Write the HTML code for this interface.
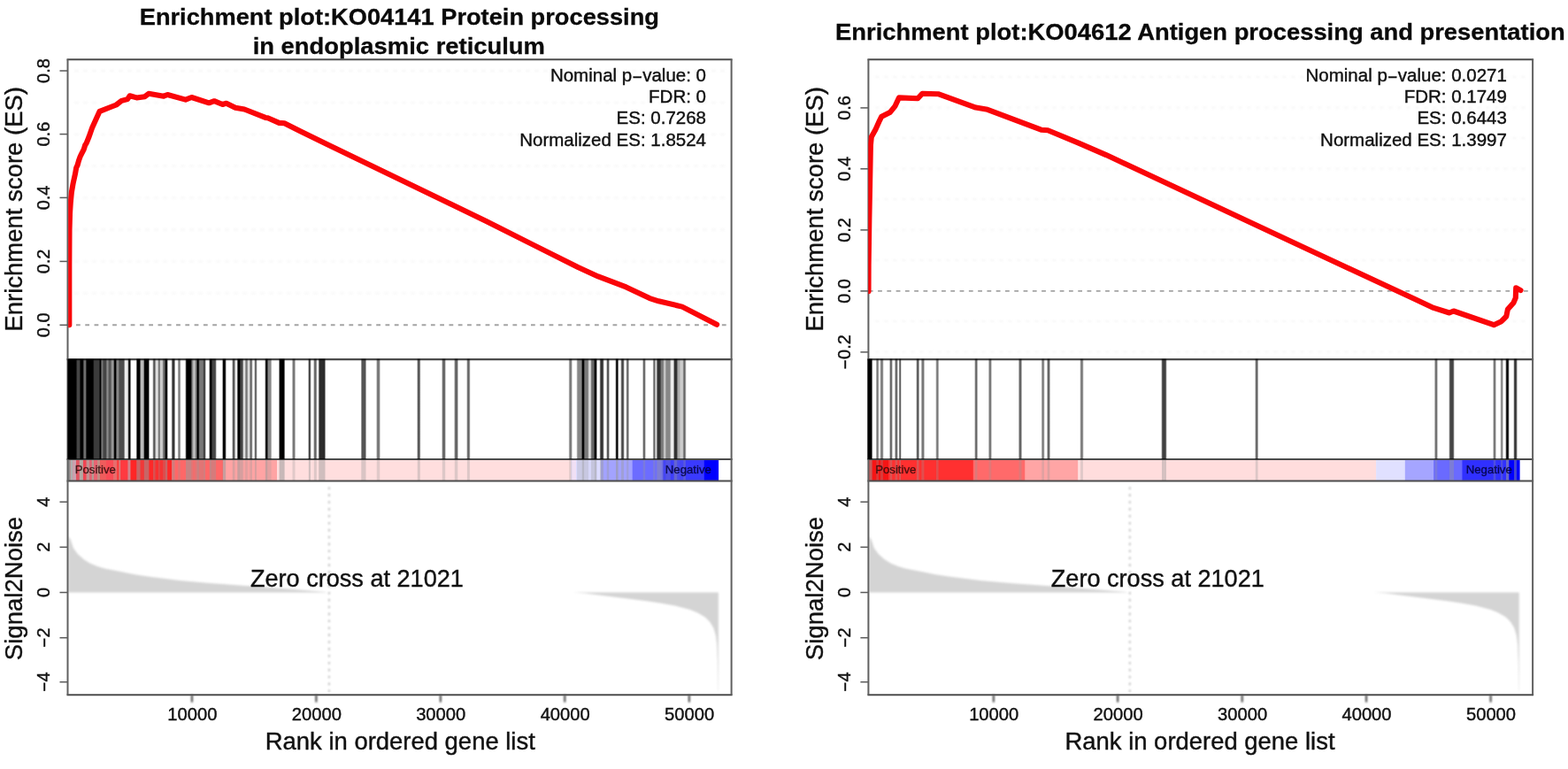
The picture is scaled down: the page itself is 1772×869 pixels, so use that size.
<!DOCTYPE html>
<html lang="en">
<head>
<meta charset="utf-8">
<title>GSEA enrichment plots</title>
<style>
html,body{margin:0;padding:0;background:#fff;}
body{width:1772px;height:869px;overflow:hidden;}
svg{display:block;}
svg text{font-family:"Liberation Sans", sans-serif;}
svg .t{fill:#111;stroke:#111;stroke-width:0.4px;}
svg .h{fill:#0a0a0a;stroke:#0a0a0a;stroke-width:0.3px;font-weight:700;}
svg .cp{font-size:13.2px;fill:#300a0a;stroke:#300a0a;stroke-width:0.5px;fill-opacity:.85;stroke-opacity:.55;}
svg .cn{font-size:13.2px;fill:#000038;stroke:#000038;stroke-width:0.5px;fill-opacity:.85;stroke-opacity:.55;}
</style>
</head>
<body>
<svg width="1772" height="869" viewBox="0 0 1772 869">
<defs><clipPath id="cp1"><rect x="77.2" y="67.3" width="750.1" height="338.8"/></clipPath>
<linearGradient id="bc1" gradientUnits="userSpaceOnUse" x1="75.4" y1="0" x2="775.8" y2="0"><stop offset="0.0000" stop-color="#000" stop-opacity="0.00"/><stop offset="0.0026" stop-color="#000" stop-opacity="1.00"/><stop offset="0.0148" stop-color="#000" stop-opacity="1.00"/><stop offset="0.0171" stop-color="#000" stop-opacity="0.73"/><stop offset="0.0203" stop-color="#000" stop-opacity="0.73"/><stop offset="0.0226" stop-color="#000" stop-opacity="1.00"/><stop offset="0.0258" stop-color="#000" stop-opacity="1.00"/><stop offset="0.0281" stop-color="#000" stop-opacity="0.57"/><stop offset="0.0301" stop-color="#000" stop-opacity="0.57"/><stop offset="0.0324" stop-color="#000" stop-opacity="1.00"/><stop offset="0.0423" stop-color="#000" stop-opacity="1.00"/><stop offset="0.0445" stop-color="#000" stop-opacity="0.77"/><stop offset="0.0520" stop-color="#000" stop-opacity="0.77"/><stop offset="0.0541" stop-color="#000" stop-opacity="1.00"/><stop offset="0.0545" stop-color="#000" stop-opacity="1.00"/><stop offset="0.0567" stop-color="#000" stop-opacity="0.53"/><stop offset="0.0574" stop-color="#000" stop-opacity="0.53"/><stop offset="0.0597" stop-color="#000" stop-opacity="0.73"/><stop offset="0.0630" stop-color="#000" stop-opacity="0.73"/><stop offset="0.0652" stop-color="#000" stop-opacity="0.45"/><stop offset="0.0662" stop-color="#000" stop-opacity="0.45"/><stop offset="0.0685" stop-color="#000" stop-opacity="0.66"/><stop offset="0.0708" stop-color="#000" stop-opacity="0.66"/><stop offset="0.0731" stop-color="#000" stop-opacity="0.40"/><stop offset="0.0751" stop-color="#000" stop-opacity="0.40"/><stop offset="0.0774" stop-color="#000" stop-opacity="1.00"/><stop offset="0.0787" stop-color="#000" stop-opacity="1.00"/><stop offset="0.0810" stop-color="#000" stop-opacity="0.47"/><stop offset="0.0830" stop-color="#000" stop-opacity="0.47"/><stop offset="0.0852" stop-color="#000" stop-opacity="0.70"/><stop offset="0.0921" stop-color="#000" stop-opacity="0.70"/><stop offset="0.0944" stop-color="#000" stop-opacity="0.07"/><stop offset="0.0982" stop-color="#000" stop-opacity="0.07"/><stop offset="0.1005" stop-color="#000" stop-opacity="1.00"/><stop offset="0.1018" stop-color="#000" stop-opacity="1.00"/><stop offset="0.1041" stop-color="#000" stop-opacity="0.00"/><stop offset="0.1115" stop-color="#000" stop-opacity="0.00"/><stop offset="0.1138" stop-color="#000" stop-opacity="1.00"/><stop offset="0.1176" stop-color="#000" stop-opacity="1.00"/><stop offset="0.1199" stop-color="#000" stop-opacity="0.27"/><stop offset="0.1236" stop-color="#000" stop-opacity="0.27"/><stop offset="0.1259" stop-color="#000" stop-opacity="1.00"/><stop offset="0.1316" stop-color="#000" stop-opacity="1.00"/><stop offset="0.1339" stop-color="#000" stop-opacity="0.00"/><stop offset="0.1382" stop-color="#000" stop-opacity="0.00"/><stop offset="0.1405" stop-color="#000" stop-opacity="0.67"/><stop offset="0.1419" stop-color="#000" stop-opacity="0.67"/><stop offset="0.1442" stop-color="#000" stop-opacity="0.13"/><stop offset="0.1468" stop-color="#000" stop-opacity="0.13"/><stop offset="0.1489" stop-color="#000" stop-opacity="0.60"/><stop offset="0.1493" stop-color="#000" stop-opacity="0.60"/><stop offset="0.1515" stop-color="#000" stop-opacity="0.20"/><stop offset="0.1541" stop-color="#000" stop-opacity="0.20"/><stop offset="0.1563" stop-color="#000" stop-opacity="0.60"/><stop offset="0.1578" stop-color="#000" stop-opacity="0.60"/><stop offset="0.1601" stop-color="#000" stop-opacity="1.00"/><stop offset="0.1613" stop-color="#000" stop-opacity="1.00"/><stop offset="0.1636" stop-color="#000" stop-opacity="0.00"/><stop offset="0.1685" stop-color="#000" stop-opacity="0.00"/><stop offset="0.1708" stop-color="#000" stop-opacity="0.80"/><stop offset="0.1732" stop-color="#000" stop-opacity="0.80"/><stop offset="0.1755" stop-color="#000" stop-opacity="0.00"/><stop offset="0.1785" stop-color="#000" stop-opacity="0.00"/><stop offset="0.1808" stop-color="#000" stop-opacity="0.53"/><stop offset="0.1822" stop-color="#000" stop-opacity="0.53"/><stop offset="0.1845" stop-color="#000" stop-opacity="0.00"/><stop offset="0.1910" stop-color="#000" stop-opacity="0.00"/><stop offset="0.1933" stop-color="#000" stop-opacity="1.00"/><stop offset="0.2002" stop-color="#000" stop-opacity="1.00"/><stop offset="0.2025" stop-color="#000" stop-opacity="0.47"/><stop offset="0.2032" stop-color="#000" stop-opacity="0.47"/><stop offset="0.2053" stop-color="#000" stop-opacity="0.20"/><stop offset="0.2057" stop-color="#000" stop-opacity="0.20"/><stop offset="0.2079" stop-color="#000" stop-opacity="0.47"/><stop offset="0.2087" stop-color="#000" stop-opacity="0.47"/><stop offset="0.2110" stop-color="#000" stop-opacity="1.00"/><stop offset="0.2123" stop-color="#000" stop-opacity="1.00"/><stop offset="0.2146" stop-color="#000" stop-opacity="0.53"/><stop offset="0.2196" stop-color="#000" stop-opacity="0.53"/><stop offset="0.2219" stop-color="#000" stop-opacity="0.80"/><stop offset="0.2226" stop-color="#000" stop-opacity="0.80"/><stop offset="0.2249" stop-color="#000" stop-opacity="0.00"/><stop offset="0.2293" stop-color="#000" stop-opacity="0.00"/><stop offset="0.2316" stop-color="#000" stop-opacity="1.00"/><stop offset="0.2330" stop-color="#000" stop-opacity="1.00"/><stop offset="0.2353" stop-color="#000" stop-opacity="0.73"/><stop offset="0.2397" stop-color="#000" stop-opacity="0.73"/><stop offset="0.2420" stop-color="#000" stop-opacity="0.00"/><stop offset="0.2506" stop-color="#000" stop-opacity="0.00"/><stop offset="0.2529" stop-color="#000" stop-opacity="1.00"/><stop offset="0.2554" stop-color="#000" stop-opacity="1.00"/><stop offset="0.2577" stop-color="#000" stop-opacity="0.00"/><stop offset="0.2664" stop-color="#000" stop-opacity="0.00"/><stop offset="0.2687" stop-color="#000" stop-opacity="0.67"/><stop offset="0.2701" stop-color="#000" stop-opacity="0.67"/><stop offset="0.2724" stop-color="#000" stop-opacity="0.07"/><stop offset="0.2743" stop-color="#000" stop-opacity="0.07"/><stop offset="0.2766" stop-color="#000" stop-opacity="1.00"/><stop offset="0.2786" stop-color="#000" stop-opacity="1.00"/><stop offset="0.2808" stop-color="#000" stop-opacity="0.73"/><stop offset="0.2834" stop-color="#000" stop-opacity="0.73"/><stop offset="0.2857" stop-color="#000" stop-opacity="0.13"/><stop offset="0.2871" stop-color="#000" stop-opacity="0.13"/><stop offset="0.2894" stop-color="#000" stop-opacity="0.53"/><stop offset="0.2907" stop-color="#000" stop-opacity="0.53"/><stop offset="0.2930" stop-color="#000" stop-opacity="0.13"/><stop offset="0.2944" stop-color="#000" stop-opacity="0.13"/><stop offset="0.2967" stop-color="#000" stop-opacity="0.60"/><stop offset="0.2981" stop-color="#000" stop-opacity="0.60"/><stop offset="0.3004" stop-color="#000" stop-opacity="0.00"/><stop offset="0.3023" stop-color="#000" stop-opacity="0.00"/><stop offset="0.3045" stop-color="#000" stop-opacity="0.67"/><stop offset="0.3053" stop-color="#000" stop-opacity="0.67"/><stop offset="0.3075" stop-color="#000" stop-opacity="0.00"/><stop offset="0.3194" stop-color="#000" stop-opacity="0.00"/><stop offset="0.3217" stop-color="#000" stop-opacity="1.00"/><stop offset="0.3230" stop-color="#000" stop-opacity="1.00"/><stop offset="0.3252" stop-color="#000" stop-opacity="0.47"/><stop offset="0.3291" stop-color="#000" stop-opacity="0.47"/><stop offset="0.3314" stop-color="#000" stop-opacity="0.00"/><stop offset="0.3418" stop-color="#000" stop-opacity="0.00"/><stop offset="0.3441" stop-color="#000" stop-opacity="1.00"/><stop offset="0.3504" stop-color="#000" stop-opacity="1.00"/><stop offset="0.3527" stop-color="#000" stop-opacity="0.00"/><stop offset="0.3631" stop-color="#000" stop-opacity="0.00"/><stop offset="0.3654" stop-color="#000" stop-opacity="0.53"/><stop offset="0.3674" stop-color="#000" stop-opacity="0.53"/><stop offset="0.3696" stop-color="#000" stop-opacity="0.00"/><stop offset="0.3892" stop-color="#000" stop-opacity="0.00"/><stop offset="0.3915" stop-color="#000" stop-opacity="0.80"/><stop offset="0.3923" stop-color="#000" stop-opacity="0.80"/><stop offset="0.3946" stop-color="#000" stop-opacity="0.00"/><stop offset="0.3978" stop-color="#000" stop-opacity="0.00"/><stop offset="0.4001" stop-color="#000" stop-opacity="0.60"/><stop offset="0.4021" stop-color="#000" stop-opacity="0.60"/><stop offset="0.4043" stop-color="#000" stop-opacity="0.00"/><stop offset="0.4055" stop-color="#000" stop-opacity="0.00"/><stop offset="0.4078" stop-color="#000" stop-opacity="0.83"/><stop offset="0.4159" stop-color="#000" stop-opacity="0.83"/><stop offset="0.4182" stop-color="#000" stop-opacity="0.00"/><stop offset="0.4742" stop-color="#000" stop-opacity="0.00"/><stop offset="0.4764" stop-color="#000" stop-opacity="0.67"/><stop offset="0.4816" stop-color="#000" stop-opacity="0.67"/><stop offset="0.4839" stop-color="#000" stop-opacity="0.00"/><stop offset="0.4991" stop-color="#000" stop-opacity="0.00"/><stop offset="0.5014" stop-color="#000" stop-opacity="0.53"/><stop offset="0.5040" stop-color="#000" stop-opacity="0.53"/><stop offset="0.5063" stop-color="#000" stop-opacity="0.00"/><stop offset="0.5648" stop-color="#000" stop-opacity="0.00"/><stop offset="0.5671" stop-color="#000" stop-opacity="0.67"/><stop offset="0.5691" stop-color="#000" stop-opacity="0.67"/><stop offset="0.5714" stop-color="#000" stop-opacity="0.00"/><stop offset="0.6048" stop-color="#000" stop-opacity="0.00"/><stop offset="0.6071" stop-color="#000" stop-opacity="0.60"/><stop offset="0.6097" stop-color="#000" stop-opacity="0.60"/><stop offset="0.6119" stop-color="#000" stop-opacity="0.00"/><stop offset="0.6248" stop-color="#000" stop-opacity="0.00"/><stop offset="0.6271" stop-color="#000" stop-opacity="0.60"/><stop offset="0.6298" stop-color="#000" stop-opacity="0.60"/><stop offset="0.6321" stop-color="#000" stop-opacity="0.00"/><stop offset="0.6449" stop-color="#000" stop-opacity="0.00"/><stop offset="0.6472" stop-color="#000" stop-opacity="0.60"/><stop offset="0.6492" stop-color="#000" stop-opacity="0.60"/><stop offset="0.6515" stop-color="#000" stop-opacity="0.00"/><stop offset="0.8095" stop-color="#000" stop-opacity="0.00"/><stop offset="0.8118" stop-color="#000" stop-opacity="0.53"/><stop offset="0.8138" stop-color="#000" stop-opacity="0.53"/><stop offset="0.8161" stop-color="#000" stop-opacity="0.00"/><stop offset="0.8222" stop-color="#000" stop-opacity="0.00"/><stop offset="0.8245" stop-color="#000" stop-opacity="0.47"/><stop offset="0.8302" stop-color="#000" stop-opacity="0.47"/><stop offset="0.8325" stop-color="#000" stop-opacity="1.00"/><stop offset="0.8338" stop-color="#000" stop-opacity="1.00"/><stop offset="0.8361" stop-color="#000" stop-opacity="0.53"/><stop offset="0.8407" stop-color="#000" stop-opacity="0.53"/><stop offset="0.8429" stop-color="#000" stop-opacity="0.13"/><stop offset="0.8449" stop-color="#000" stop-opacity="0.13"/><stop offset="0.8472" stop-color="#000" stop-opacity="0.60"/><stop offset="0.8502" stop-color="#000" stop-opacity="0.60"/><stop offset="0.8525" stop-color="#000" stop-opacity="1.00"/><stop offset="0.8539" stop-color="#000" stop-opacity="1.00"/><stop offset="0.8562" stop-color="#000" stop-opacity="0.00"/><stop offset="0.8594" stop-color="#000" stop-opacity="0.00"/><stop offset="0.8617" stop-color="#000" stop-opacity="0.80"/><stop offset="0.8649" stop-color="#000" stop-opacity="0.80"/><stop offset="0.8672" stop-color="#000" stop-opacity="0.00"/><stop offset="0.8704" stop-color="#000" stop-opacity="0.00"/><stop offset="0.8726" stop-color="#000" stop-opacity="0.67"/><stop offset="0.8739" stop-color="#000" stop-opacity="0.67"/><stop offset="0.8762" stop-color="#000" stop-opacity="0.00"/><stop offset="0.8849" stop-color="#000" stop-opacity="0.00"/><stop offset="0.8872" stop-color="#000" stop-opacity="1.00"/><stop offset="0.8886" stop-color="#000" stop-opacity="1.00"/><stop offset="0.8909" stop-color="#000" stop-opacity="0.00"/><stop offset="0.8935" stop-color="#000" stop-opacity="0.00"/><stop offset="0.8958" stop-color="#000" stop-opacity="0.73"/><stop offset="0.8978" stop-color="#000" stop-opacity="0.73"/><stop offset="0.9001" stop-color="#000" stop-opacity="0.00"/><stop offset="0.9021" stop-color="#000" stop-opacity="0.00"/><stop offset="0.9043" stop-color="#000" stop-opacity="0.60"/><stop offset="0.9056" stop-color="#000" stop-opacity="0.60"/><stop offset="0.9079" stop-color="#000" stop-opacity="0.00"/><stop offset="0.9288" stop-color="#000" stop-opacity="0.00"/><stop offset="0.9310" stop-color="#000" stop-opacity="0.60"/><stop offset="0.9323" stop-color="#000" stop-opacity="0.60"/><stop offset="0.9346" stop-color="#000" stop-opacity="0.00"/><stop offset="0.9452" stop-color="#000" stop-opacity="0.00"/><stop offset="0.9475" stop-color="#000" stop-opacity="0.60"/><stop offset="0.9482" stop-color="#000" stop-opacity="0.60"/><stop offset="0.9505" stop-color="#000" stop-opacity="0.13"/><stop offset="0.9512" stop-color="#000" stop-opacity="0.13"/><stop offset="0.9535" stop-color="#000" stop-opacity="0.80"/><stop offset="0.9573" stop-color="#000" stop-opacity="0.80"/><stop offset="0.9596" stop-color="#000" stop-opacity="0.53"/><stop offset="0.9620" stop-color="#000" stop-opacity="0.53"/><stop offset="0.9643" stop-color="#000" stop-opacity="0.20"/><stop offset="0.9652" stop-color="#000" stop-opacity="0.20"/><stop offset="0.9674" stop-color="#000" stop-opacity="0.47"/><stop offset="0.9732" stop-color="#000" stop-opacity="0.47"/><stop offset="0.9754" stop-color="#000" stop-opacity="0.07"/><stop offset="0.9786" stop-color="#000" stop-opacity="0.07"/><stop offset="0.9809" stop-color="#000" stop-opacity="0.80"/><stop offset="0.9840" stop-color="#000" stop-opacity="0.80"/><stop offset="0.9863" stop-color="#000" stop-opacity="0.33"/><stop offset="0.9883" stop-color="#000" stop-opacity="0.33"/><stop offset="0.9906" stop-color="#000" stop-opacity="0.20"/><stop offset="0.9937" stop-color="#000" stop-opacity="0.20"/><stop offset="0.9960" stop-color="#000" stop-opacity="0.60"/><stop offset="0.9974" stop-color="#000" stop-opacity="0.60"/><stop offset="1.0000" stop-color="#000" stop-opacity="0.00"/></linearGradient>
<clipPath id="cp2"><rect x="981.3" y="67.3" width="750.7" height="338.8"/></clipPath>
<linearGradient id="bc2" gradientUnits="userSpaceOnUse" x1="979.5" y1="0" x2="1715" y2="0"><stop offset="0.0000" stop-color="#000" stop-opacity="0.00"/><stop offset="0.0024" stop-color="#000" stop-opacity="1.00"/><stop offset="0.0072" stop-color="#000" stop-opacity="1.00"/><stop offset="0.0094" stop-color="#000" stop-opacity="0.00"/><stop offset="0.0136" stop-color="#000" stop-opacity="0.00"/><stop offset="0.0158" stop-color="#000" stop-opacity="0.53"/><stop offset="0.0171" stop-color="#000" stop-opacity="0.53"/><stop offset="0.0193" stop-color="#000" stop-opacity="0.00"/><stop offset="0.0200" stop-color="#000" stop-opacity="0.00"/><stop offset="0.0222" stop-color="#000" stop-opacity="0.53"/><stop offset="0.0241" stop-color="#000" stop-opacity="0.53"/><stop offset="0.0262" stop-color="#000" stop-opacity="0.00"/><stop offset="0.0345" stop-color="#000" stop-opacity="0.00"/><stop offset="0.0367" stop-color="#000" stop-opacity="0.60"/><stop offset="0.0379" stop-color="#000" stop-opacity="0.60"/><stop offset="0.0401" stop-color="#000" stop-opacity="0.00"/><stop offset="0.0426" stop-color="#000" stop-opacity="0.00"/><stop offset="0.0447" stop-color="#000" stop-opacity="0.60"/><stop offset="0.0461" stop-color="#000" stop-opacity="0.60"/><stop offset="0.0483" stop-color="#000" stop-opacity="0.00"/><stop offset="0.0489" stop-color="#000" stop-opacity="0.00"/><stop offset="0.0510" stop-color="#000" stop-opacity="0.73"/><stop offset="0.0514" stop-color="#000" stop-opacity="0.73"/><stop offset="0.0534" stop-color="#000" stop-opacity="0.00"/><stop offset="0.0756" stop-color="#000" stop-opacity="0.00"/><stop offset="0.0778" stop-color="#000" stop-opacity="0.67"/><stop offset="0.0791" stop-color="#000" stop-opacity="0.67"/><stop offset="0.0813" stop-color="#000" stop-opacity="0.00"/><stop offset="0.0831" stop-color="#000" stop-opacity="0.00"/><stop offset="0.0852" stop-color="#000" stop-opacity="0.53"/><stop offset="0.0872" stop-color="#000" stop-opacity="0.53"/><stop offset="0.0893" stop-color="#000" stop-opacity="0.00"/><stop offset="0.1056" stop-color="#000" stop-opacity="0.00"/><stop offset="0.1078" stop-color="#000" stop-opacity="0.53"/><stop offset="0.1092" stop-color="#000" stop-opacity="0.53"/><stop offset="0.1114" stop-color="#000" stop-opacity="0.00"/><stop offset="0.1653" stop-color="#000" stop-opacity="0.00"/><stop offset="0.1675" stop-color="#000" stop-opacity="0.60"/><stop offset="0.1689" stop-color="#000" stop-opacity="0.60"/><stop offset="0.1710" stop-color="#000" stop-opacity="0.00"/><stop offset="0.1865" stop-color="#000" stop-opacity="0.00"/><stop offset="0.1887" stop-color="#000" stop-opacity="0.53"/><stop offset="0.1903" stop-color="#000" stop-opacity="0.53"/><stop offset="0.1925" stop-color="#000" stop-opacity="0.00"/><stop offset="0.2328" stop-color="#000" stop-opacity="0.00"/><stop offset="0.2349" stop-color="#000" stop-opacity="0.60"/><stop offset="0.2368" stop-color="#000" stop-opacity="0.60"/><stop offset="0.2390" stop-color="#000" stop-opacity="0.00"/><stop offset="0.2678" stop-color="#000" stop-opacity="0.00"/><stop offset="0.2700" stop-color="#000" stop-opacity="0.53"/><stop offset="0.2715" stop-color="#000" stop-opacity="0.53"/><stop offset="0.2737" stop-color="#000" stop-opacity="0.00"/><stop offset="0.2764" stop-color="#000" stop-opacity="0.00"/><stop offset="0.2786" stop-color="#000" stop-opacity="0.60"/><stop offset="0.2802" stop-color="#000" stop-opacity="0.60"/><stop offset="0.2824" stop-color="#000" stop-opacity="0.00"/><stop offset="0.3273" stop-color="#000" stop-opacity="0.00"/><stop offset="0.3294" stop-color="#000" stop-opacity="0.53"/><stop offset="0.3313" stop-color="#000" stop-opacity="0.53"/><stop offset="0.3335" stop-color="#000" stop-opacity="0.00"/><stop offset="0.4523" stop-color="#000" stop-opacity="0.00"/><stop offset="0.4545" stop-color="#000" stop-opacity="0.75"/><stop offset="0.4591" stop-color="#000" stop-opacity="0.75"/><stop offset="0.4613" stop-color="#000" stop-opacity="0.00"/><stop offset="0.5962" stop-color="#000" stop-opacity="0.00"/><stop offset="0.5984" stop-color="#000" stop-opacity="0.60"/><stop offset="0.6000" stop-color="#000" stop-opacity="0.60"/><stop offset="0.6022" stop-color="#000" stop-opacity="0.00"/><stop offset="0.8718" stop-color="#000" stop-opacity="0.00"/><stop offset="0.8740" stop-color="#000" stop-opacity="0.55"/><stop offset="0.8756" stop-color="#000" stop-opacity="0.55"/><stop offset="0.8778" stop-color="#000" stop-opacity="0.00"/><stop offset="0.8942" stop-color="#000" stop-opacity="0.00"/><stop offset="0.8964" stop-color="#000" stop-opacity="0.73"/><stop offset="0.9010" stop-color="#000" stop-opacity="0.73"/><stop offset="0.9032" stop-color="#000" stop-opacity="0.00"/><stop offset="0.9618" stop-color="#000" stop-opacity="0.00"/><stop offset="0.9640" stop-color="#000" stop-opacity="0.53"/><stop offset="0.9653" stop-color="#000" stop-opacity="0.53"/><stop offset="0.9675" stop-color="#000" stop-opacity="0.00"/><stop offset="0.9731" stop-color="#000" stop-opacity="0.00"/><stop offset="0.9753" stop-color="#000" stop-opacity="0.50"/><stop offset="0.9762" stop-color="#000" stop-opacity="0.50"/><stop offset="0.9784" stop-color="#000" stop-opacity="0.00"/><stop offset="0.9812" stop-color="#000" stop-opacity="0.00"/><stop offset="0.9834" stop-color="#000" stop-opacity="1.00"/><stop offset="0.9853" stop-color="#000" stop-opacity="1.00"/><stop offset="0.9875" stop-color="#000" stop-opacity="0.00"/><stop offset="0.9935" stop-color="#000" stop-opacity="0.00"/><stop offset="0.9956" stop-color="#000" stop-opacity="0.80"/><stop offset="0.9976" stop-color="#000" stop-opacity="0.80"/><stop offset="1.0000" stop-color="#000" stop-opacity="0.00"/></linearGradient><filter id="soft" x="0" y="0" width="1772" height="869" filterUnits="userSpaceOnUse" color-interpolation-filters="sRGB"><feGaussianBlur stdDeviation="0.9"/></filter></defs>
<rect x="0" y="0" width="1772" height="869" fill="#fff"/>
<g>
<line x1="75.7" y1="367.3" x2="822.1" y2="367.3" stroke="#a4a4a4" stroke-width="1.9" stroke-dasharray="4.8 5.48"/>
<line x1="981.8" y1="328.9" x2="1727.6" y2="328.9" stroke="#a4a4a4" stroke-width="1.9" stroke-dasharray="4.8 5.48"/>
</g>
<g filter="url(#soft)">
<!-- left panel: KO04141 -->
<line x1="84.5" y1="80" x2="821.6" y2="80" stroke="#f4f4f4" stroke-width="1.8" stroke-dasharray="4 6"/>
<line x1="84.5" y1="115.9" x2="821.6" y2="115.9" stroke="#f4f4f4" stroke-width="1.8" stroke-dasharray="4 6"/>
<line x1="84.5" y1="151.8" x2="821.6" y2="151.8" stroke="#f4f4f4" stroke-width="1.8" stroke-dasharray="4 6"/>
<line x1="84.5" y1="187.7" x2="821.6" y2="187.7" stroke="#f4f4f4" stroke-width="1.8" stroke-dasharray="4 6"/>
<line x1="84.5" y1="223.6" x2="821.6" y2="223.6" stroke="#f4f4f4" stroke-width="1.8" stroke-dasharray="4 6"/>
<line x1="84.5" y1="259.5" x2="821.6" y2="259.5" stroke="#f4f4f4" stroke-width="1.8" stroke-dasharray="4 6"/>
<line x1="84.5" y1="295.4" x2="821.6" y2="295.4" stroke="#f4f4f4" stroke-width="1.8" stroke-dasharray="4 6"/>
<line x1="84.5" y1="331.3" x2="821.6" y2="331.3" stroke="#f4f4f4" stroke-width="1.8" stroke-dasharray="4 6"/>
<polygon points="77.3,669.5 77.3,606 79.6,609.4 83,619.6 88,626.3 94.8,632.3 101.6,636.5 110,639.9 118.5,642.4 135.4,645.8 152.4,649.2 169.3,651.7 203.2,656 237,659 270.9,661.5 300,663.6 335,666.2 368.5,669 368.5,669.5" fill="#d4d4d4"/>
<polygon points="648,669.6 661.6,670.5 695.4,674.7 729.3,678.9 746.2,681.5 763,684.4 780,689.1 788.5,692.5 797,697.6 802,702.6 806.3,709.4 808.9,717.9 810.2,728 811,748.3 811.6,780.5 811.9,780.5 811.9,669.5" fill="#d4d4d4"/>
<line x1="371.9" y1="550.4" x2="371.9" y2="782" stroke="#b8b8b8" stroke-width="1.8" stroke-dasharray="2.6 5.3"/>
<line x1="216.9" y1="785.2" x2="216.9" y2="793.5" stroke="#111" stroke-width="1.6"/>
<line x1="357.4" y1="785.2" x2="357.4" y2="793.5" stroke="#111" stroke-width="1.6"/>
<line x1="497.8" y1="785.2" x2="497.8" y2="793.5" stroke="#111" stroke-width="1.6"/>
<line x1="638.3" y1="785.2" x2="638.3" y2="793.5" stroke="#111" stroke-width="1.6"/>
<line x1="778.8" y1="785.2" x2="778.8" y2="793.5" stroke="#111" stroke-width="1.6"/>
<!-- right panel: KO04612 -->
<line x1="989.4" y1="87.2" x2="1727.1" y2="87.2" stroke="#f4f4f4" stroke-width="1.8" stroke-dasharray="4 6"/>
<line x1="989.4" y1="121.7" x2="1727.1" y2="121.7" stroke="#f4f4f4" stroke-width="1.8" stroke-dasharray="4 6"/>
<line x1="989.4" y1="156.2" x2="1727.1" y2="156.2" stroke="#f4f4f4" stroke-width="1.8" stroke-dasharray="4 6"/>
<line x1="989.4" y1="190.7" x2="1727.1" y2="190.7" stroke="#f4f4f4" stroke-width="1.8" stroke-dasharray="4 6"/>
<line x1="989.4" y1="225.2" x2="1727.1" y2="225.2" stroke="#f4f4f4" stroke-width="1.8" stroke-dasharray="4 6"/>
<line x1="989.4" y1="259.7" x2="1727.1" y2="259.7" stroke="#f4f4f4" stroke-width="1.8" stroke-dasharray="4 6"/>
<line x1="989.4" y1="294.2" x2="1727.1" y2="294.2" stroke="#f4f4f4" stroke-width="1.8" stroke-dasharray="4 6"/>
<line x1="989.4" y1="363.2" x2="1727.1" y2="363.2" stroke="#f4f4f4" stroke-width="1.8" stroke-dasharray="4 6"/>
<line x1="989.4" y1="397.7" x2="1727.1" y2="397.7" stroke="#f4f4f4" stroke-width="1.8" stroke-dasharray="4 6"/>
<polygon points="982.2,669.5 982.2,606 984.5,609.4 987.9,619.6 992.9,626.3 999.7,632.3 1006.5,636.5 1014.9,639.9 1023.4,642.4 1040.3,645.8 1057.3,649.2 1074.2,651.7 1108.1,656 1141.9,659 1175.8,661.5 1204.9,663.6 1239.9,666.2 1273.4,669 1273.4,669.5" fill="#d4d4d4"/>
<polygon points="1552.9,669.6 1566.5,670.5 1600.3,674.7 1634.2,678.9 1651.1,681.5 1667.9,684.4 1684.9,689.1 1693.4,692.5 1701.9,697.6 1706.9,702.6 1711.2,709.4 1713.8,717.9 1715.1,728 1715.9,748.3 1716.5,780.5 1716.8,780.5 1716.8,669.5" fill="#d4d4d4"/>
<line x1="1276.8" y1="550.4" x2="1276.8" y2="782" stroke="#b8b8b8" stroke-width="1.8" stroke-dasharray="2.6 5.3"/>
<line x1="1122.8" y1="785.2" x2="1122.8" y2="793.5" stroke="#111" stroke-width="1.6"/>
<line x1="1263.2" y1="785.2" x2="1263.2" y2="793.5" stroke="#111" stroke-width="1.6"/>
<line x1="1403.7" y1="785.2" x2="1403.7" y2="793.5" stroke="#111" stroke-width="1.6"/>
<line x1="1544.1" y1="785.2" x2="1544.1" y2="793.5" stroke="#111" stroke-width="1.6"/>
<line x1="1684.6" y1="785.2" x2="1684.6" y2="793.5" stroke="#111" stroke-width="1.6"/>
</g>
<g>
<rect x="76.5" y="519" width="117.8" height="24.5" fill="#ff2828"/>
<rect x="194" y="519" width="58.6" height="24.5" fill="#ff6868"/>
<rect x="252.3" y="519" width="61" height="24.5" fill="#ffa4a4"/>
<rect x="313" y="519" width="332.3" height="24.5" fill="#ffdede"/>
<rect x="645" y="519" width="6.3" height="24.5" fill="#f0e0f5"/>
<rect x="651" y="519" width="28.3" height="24.5" fill="#dcdcff"/>
<rect x="679" y="519" width="36" height="24.5" fill="#a3a3ff"/>
<rect x="714.7" y="519" width="34.1" height="24.5" fill="#6c6cff"/>
<rect x="748.5" y="519" width="47.4" height="24.5" fill="#3a3aff"/>
<rect x="795.6" y="519" width="16.5" height="24.5" fill="#0000ff"/>
<rect x="76.3" y="519" width="3.3" height="24.5" fill="#8c8c8c"/>
<rect x="79.4" y="519" width="2.9" height="24.5" fill="#b0b0b0"/>
<rect x="82.1" y="519" width="4.3" height="24.5" fill="#c9a3b0"/>
<rect x="86.2" y="519" width="3.8" height="24.5" fill="#e05562"/>
<rect x="89.8" y="519" width="4.3" height="24.5" fill="#b3a9a3"/>
<rect x="93.9" y="519" width="3.8" height="24.5" fill="#f04552"/>
<rect x="97.5" y="519" width="3.7" height="24.5" fill="#c39393"/>
<rect x="101" y="519" width="3" height="24.5" fill="#e26472"/>
<rect x="103.8" y="519" width="2.4" height="24.5" fill="#b39c93"/>
<rect x="106" y="519" width="4.2" height="24.5" fill="#e86472"/>
<rect x="110" y="519" width="3.5" height="24.5" fill="#c48d84"/>
<rect x="113.3" y="519" width="6.9" height="24.5" fill="#f05c5c"/>
<rect x="120" y="519" width="8.2" height="24.5" fill="#fa4c56"/>
<rect x="128" y="519" width="4.4" height="24.5" fill="#e86c6c"/>
<rect x="132.2" y="519" width="2.5" height="24.5" fill="#fa4040"/>
<rect x="134.5" y="519" width="2" height="24.5" fill="#d28484"/>
<rect x="136.3" y="519" width="8.3" height="24.5" fill="#ff3a40"/>
<rect x="144.4" y="519" width="3.4" height="24.5" fill="#d2848c"/>
<rect x="147.6" y="519" width="6.6" height="24.5" fill="#ff2626"/>
<rect x="154.3" y="519" width="4.3" height="24.5" fill="#999" fill-opacity="0.55"/>
<rect x="158.6" y="519" width="4.2" height="24.5" fill="#999" fill-opacity="0.15"/>
<rect x="162.8" y="519" width="5.6" height="24.5" fill="#999" fill-opacity="0.55"/>
<rect x="173" y="519" width="2.6" height="24.5" fill="#999" fill-opacity="0.37"/>
<rect x="175.6" y="519" width="3.4" height="24.5" fill="#999" fill-opacity="0.07"/>
<rect x="179" y="519" width="1.7" height="24.5" fill="#999" fill-opacity="0.33"/>
<rect x="180.7" y="519" width="3.4" height="24.5" fill="#999" fill-opacity="0.11"/>
<rect x="184.1" y="519" width="2.6" height="24.5" fill="#999" fill-opacity="0.33"/>
<rect x="186.7" y="519" width="2.5" height="24.5" fill="#999" fill-opacity="0.55"/>
<rect x="194.2" y="519" width="3.3" height="24.5" fill="#999" fill-opacity="0.44"/>
<rect x="201.2" y="519" width="2.6" height="24.5" fill="#999" fill-opacity="0.29"/>
<rect x="210" y="519" width="6.4" height="24.5" fill="#999" fill-opacity="0.55"/>
<rect x="216.4" y="519" width="2.1" height="24.5" fill="#999" fill-opacity="0.26"/>
<rect x="218.5" y="519" width="1.7" height="24.5" fill="#999" fill-opacity="0.11"/>
<rect x="220.2" y="519" width="2.2" height="24.5" fill="#999" fill-opacity="0.26"/>
<rect x="222.4" y="519" width="2.5" height="24.5" fill="#999" fill-opacity="0.55"/>
<rect x="224.9" y="519" width="5.1" height="24.5" fill="#999" fill-opacity="0.29"/>
<rect x="230" y="519" width="2.1" height="24.5" fill="#999" fill-opacity="0.44"/>
<rect x="236.8" y="519" width="2.6" height="24.5" fill="#999" fill-opacity="0.55"/>
<rect x="239.4" y="519" width="4.7" height="24.5" fill="#999" fill-opacity="0.40"/>
<rect x="251.7" y="519" width="3.4" height="24.5" fill="#999" fill-opacity="0.55"/>
<rect x="262.8" y="519" width="2.6" height="24.5" fill="#999" fill-opacity="0.37"/>
<rect x="265.4" y="519" width="2.9" height="24.5" fill="#999" fill-opacity="0.04"/>
<rect x="268.3" y="519" width="3" height="24.5" fill="#999" fill-opacity="0.55"/>
<rect x="271.3" y="519" width="3.4" height="24.5" fill="#999" fill-opacity="0.40"/>
<rect x="274.7" y="519" width="2.6" height="24.5" fill="#999" fill-opacity="0.07"/>
<rect x="277.3" y="519" width="2.5" height="24.5" fill="#999" fill-opacity="0.29"/>
<rect x="279.8" y="519" width="2.6" height="24.5" fill="#999" fill-opacity="0.07"/>
<rect x="282.4" y="519" width="2.6" height="24.5" fill="#999" fill-opacity="0.33"/>
<rect x="287.9" y="519" width="2.1" height="24.5" fill="#999" fill-opacity="0.37"/>
<rect x="299.9" y="519" width="2.5" height="24.5" fill="#999" fill-opacity="0.55"/>
<rect x="302.4" y="519" width="4.3" height="24.5" fill="#999" fill-opacity="0.26"/>
<rect x="315.6" y="519" width="6" height="24.5" fill="#999" fill-opacity="0.55"/>
<rect x="330.5" y="519" width="3" height="24.5" fill="#999" fill-opacity="0.29"/>
<rect x="348.8" y="519" width="2.2" height="24.5" fill="#999" fill-opacity="0.44"/>
<rect x="354.8" y="519" width="3" height="24.5" fill="#999" fill-opacity="0.33"/>
<rect x="360.2" y="519" width="7.3" height="24.5" fill="#999" fill-opacity="0.46"/>
<rect x="408.3" y="519" width="5.2" height="24.5" fill="#999" fill-opacity="0.37"/>
<rect x="425.8" y="519" width="3.4" height="24.5" fill="#999" fill-opacity="0.29"/>
<rect x="471.8" y="519" width="3" height="24.5" fill="#999" fill-opacity="0.37"/>
<rect x="499.8" y="519" width="3.4" height="24.5" fill="#999" fill-opacity="0.33"/>
<rect x="513.8" y="519" width="3.5" height="24.5" fill="#999" fill-opacity="0.33"/>
<rect x="527.9" y="519" width="3" height="24.5" fill="#999" fill-opacity="0.33"/>
<rect x="643.2" y="519" width="3" height="24.5" fill="#999" fill-opacity="0.29"/>
<rect x="652.1" y="519" width="5.6" height="24.5" fill="#999" fill-opacity="0.26"/>
<rect x="657.7" y="519" width="2.5" height="24.5" fill="#999" fill-opacity="0.55"/>
<rect x="660.2" y="519" width="4.8" height="24.5" fill="#999" fill-opacity="0.29"/>
<rect x="665" y="519" width="3" height="24.5" fill="#999" fill-opacity="0.07"/>
<rect x="668" y="519" width="3.7" height="24.5" fill="#999" fill-opacity="0.33"/>
<rect x="671.7" y="519" width="2.6" height="24.5" fill="#999" fill-opacity="0.55"/>
<rect x="678.1" y="519" width="3.9" height="24.5" fill="#999" fill-opacity="0.44"/>
<rect x="685.8" y="519" width="2.5" height="24.5" fill="#999" fill-opacity="0.37"/>
<rect x="696" y="519" width="2.6" height="24.5" fill="#999" fill-opacity="0.55"/>
<rect x="702" y="519" width="3" height="24.5" fill="#999" fill-opacity="0.40"/>
<rect x="708" y="519" width="2.5" height="24.5" fill="#999" fill-opacity="0.33"/>
<rect x="726.7" y="519" width="2.5" height="24.5" fill="#999" fill-opacity="0.33"/>
<rect x="738.2" y="519" width="2.1" height="24.5" fill="#999" fill-opacity="0.33"/>
<rect x="740.3" y="519" width="2.1" height="24.5" fill="#999" fill-opacity="0.07"/>
<rect x="742.4" y="519" width="4.3" height="24.5" fill="#999" fill-opacity="0.44"/>
<rect x="746.7" y="519" width="3.3" height="24.5" fill="#999" fill-opacity="0.29"/>
<rect x="750" y="519" width="2.2" height="24.5" fill="#999" fill-opacity="0.11"/>
<rect x="752.2" y="519" width="5.6" height="24.5" fill="#999" fill-opacity="0.26"/>
<rect x="757.8" y="519" width="3.8" height="24.5" fill="#999" fill-opacity="0.04"/>
<rect x="761.6" y="519" width="3.8" height="24.5" fill="#999" fill-opacity="0.44"/>
<rect x="765.4" y="519" width="3" height="24.5" fill="#999" fill-opacity="0.18"/>
<rect x="768.4" y="519" width="3.8" height="24.5" fill="#999" fill-opacity="0.11"/>
<rect x="772.2" y="519" width="2.6" height="24.5" fill="#999" fill-opacity="0.33"/>
<line x1="75.5" y1="67.3" x2="827.6" y2="67.3" stroke="#4c4c4c" stroke-width="2.1"/>
<line x1="75.5" y1="406.1" x2="827.6" y2="406.1" stroke="#4c4c4c" stroke-width="2.1"/>
<line x1="75.5" y1="519" x2="827.6" y2="519" stroke="#4c4c4c" stroke-width="2.1"/>
<line x1="75.5" y1="543.5" x2="827.6" y2="543.5" stroke="#4c4c4c" stroke-width="2.1"/>
<line x1="75.5" y1="785.2" x2="827.6" y2="785.2" stroke="#4c4c4c" stroke-width="2.1"/>
<line x1="76.5" y1="67.3" x2="76.5" y2="785.2" stroke="#606060" stroke-width="2.0"/>
<line x1="826.6" y1="67.3" x2="826.6" y2="785.2" stroke="#606060" stroke-width="2.0"/>
<g clip-path="url(#cp1)"><polyline points="78.3,367.3 78.3,300 78.5,260 79,241.3 79.8,228.6 80.9,217.1 82.7,206.8 85,196.4 86.2,189.5 87.6,186.6 89,181.5 90.6,177 92,174.2 94.7,168.8 96.2,164 97.6,161.9 100.6,154.5 104.1,144.5 108.4,135.1 112.6,125.8 123.7,121.5 131.4,118.5 137.3,113.9 144.1,112.1 146.7,108.3 154.4,110.4 163.7,109.2 168,105.8 185,108.7 189.3,107 209.7,112.6 216.5,110 236.2,116.3 242.1,114.2 251.5,118 255.8,116.7 266,121.8 276.2,123.5 300,132.9 302.6,133.3 315.4,138.9 321.4,139.3 339.3,148.2 370,163.2 549.5,250 600,275.4 653.2,302 676,312.4 707.6,324.4 734.2,337.1 744.3,340.3 770.9,346.6 810.1,366.8" fill="none" stroke="#fa0509" stroke-width="6.1" stroke-linejoin="round" stroke-linecap="round"/></g>
<rect x="75.4" y="405.6" width="700.4" height="113.5" fill="url(#bc1)"/>
<line x1="67.5" y1="80" x2="76" y2="80" stroke="#5a5a5a" stroke-width="1.5"/>
<line x1="67.5" y1="151.6" x2="76" y2="151.6" stroke="#5a5a5a" stroke-width="1.5"/>
<line x1="67.5" y1="223.4" x2="76" y2="223.4" stroke="#5a5a5a" stroke-width="1.5"/>
<line x1="67.5" y1="295.4" x2="76" y2="295.4" stroke="#5a5a5a" stroke-width="1.5"/>
<line x1="67.5" y1="367.3" x2="76" y2="367.3" stroke="#5a5a5a" stroke-width="1.5"/>
<line x1="67.5" y1="567.2" x2="76" y2="567.2" stroke="#5a5a5a" stroke-width="1.5"/>
<line x1="67.5" y1="618.3" x2="76" y2="618.3" stroke="#5a5a5a" stroke-width="1.5"/>
<line x1="67.5" y1="669.5" x2="76" y2="669.5" stroke="#5a5a5a" stroke-width="1.5"/>
<line x1="67.5" y1="720.7" x2="76" y2="720.7" stroke="#5a5a5a" stroke-width="1.5"/>
<line x1="67.5" y1="770.7" x2="76" y2="770.7" stroke="#5a5a5a" stroke-width="1.5"/>
<rect x="981.4" y="519" width="22.9" height="24.5" fill="#f51515"/>
<rect x="1004" y="519" width="96.1" height="24.5" fill="#ff3030"/>
<rect x="1099.8" y="519" width="59" height="24.5" fill="#ff6a6a"/>
<rect x="1158.5" y="519" width="60.1" height="24.5" fill="#ffa5a5"/>
<rect x="1218.3" y="519" width="337.1" height="24.5" fill="#ffdddd"/>
<rect x="1555.1" y="519" width="33" height="24.5" fill="#e0e0ff"/>
<rect x="1587.8" y="519" width="32.6" height="24.5" fill="#a5a5ff"/>
<rect x="1620.1" y="519" width="32.4" height="24.5" fill="#6a6aff"/>
<rect x="1652.2" y="519" width="53.3" height="24.5" fill="#3030ff"/>
<rect x="1705.2" y="519" width="12.4" height="24.5" fill="#0000ff"/>
<rect x="980.5" y="519" width="5.1" height="24.5" fill="#999" fill-opacity="0.55"/>
<rect x="990.3" y="519" width="2.6" height="24.5" fill="#999" fill-opacity="0.29"/>
<rect x="995" y="519" width="3" height="24.5" fill="#999" fill-opacity="0.29"/>
<rect x="1005.7" y="519" width="2.5" height="24.5" fill="#999" fill-opacity="0.33"/>
<rect x="1011.6" y="519" width="2.6" height="24.5" fill="#999" fill-opacity="0.33"/>
<rect x="1016.3" y="519" width="1.7" height="24.5" fill="#999" fill-opacity="0.40"/>
<rect x="1035.9" y="519" width="2.6" height="24.5" fill="#999" fill-opacity="0.37"/>
<rect x="1041.4" y="519" width="3" height="24.5" fill="#999" fill-opacity="0.29"/>
<rect x="1058" y="519" width="2.6" height="24.5" fill="#999" fill-opacity="0.29"/>
<rect x="1101.9" y="519" width="2.6" height="24.5" fill="#999" fill-opacity="0.33"/>
<rect x="1117.5" y="519" width="2.8" height="24.5" fill="#999" fill-opacity="0.29"/>
<rect x="1151.5" y="519" width="3" height="24.5" fill="#999" fill-opacity="0.33"/>
<rect x="1177.3" y="519" width="2.7" height="24.5" fill="#999" fill-opacity="0.29"/>
<rect x="1183.6" y="519" width="2.8" height="24.5" fill="#999" fill-opacity="0.33"/>
<rect x="1221" y="519" width="3" height="24.5" fill="#999" fill-opacity="0.29"/>
<rect x="1313" y="519" width="5" height="24.5" fill="#999" fill-opacity="0.41"/>
<rect x="1418.8" y="519" width="2.8" height="24.5" fill="#999" fill-opacity="0.33"/>
<rect x="1621.5" y="519" width="2.8" height="24.5" fill="#999" fill-opacity="0.30"/>
<rect x="1638" y="519" width="5" height="24.5" fill="#999" fill-opacity="0.40"/>
<rect x="1687.7" y="519" width="2.6" height="24.5" fill="#999" fill-opacity="0.29"/>
<rect x="1696" y="519" width="2.3" height="24.5" fill="#999" fill-opacity="0.28"/>
<rect x="1702" y="519" width="3" height="24.5" fill="#999" fill-opacity="0.55"/>
<rect x="1711" y="519" width="3" height="24.5" fill="#999" fill-opacity="0.44"/>
<line x1="980.4" y1="67.3" x2="1733.1" y2="67.3" stroke="#4c4c4c" stroke-width="2.1"/>
<line x1="980.4" y1="406.1" x2="1733.1" y2="406.1" stroke="#4c4c4c" stroke-width="2.1"/>
<line x1="980.4" y1="519" x2="1733.1" y2="519" stroke="#4c4c4c" stroke-width="2.1"/>
<line x1="980.4" y1="543.5" x2="1733.1" y2="543.5" stroke="#4c4c4c" stroke-width="2.1"/>
<line x1="980.4" y1="785.2" x2="1733.1" y2="785.2" stroke="#4c4c4c" stroke-width="2.1"/>
<line x1="981.4" y1="67.3" x2="981.4" y2="785.2" stroke="#606060" stroke-width="2.0"/>
<line x1="1732.1" y1="67.3" x2="1732.1" y2="785.2" stroke="#606060" stroke-width="2.0"/>
<g clip-path="url(#cp2)"><polyline points="981.5,329.2 981.6,300 982.3,250 983.1,207 983.9,164 984.8,154.7 989.5,146.2 993.3,137.7 996.3,131.7 1005.7,127.1 1011.6,119.8 1015.9,110.4 1037.2,111.3 1042.3,105.8 1060.2,106.2 1102.8,121.6 1116,123.8 1176.6,146.7 1184.2,147.2 1218.9,161.6 1250,175.1 1500,292 1600,338.6 1620.1,347.9 1637.9,353.5 1642.7,351.5 1688.2,367.2 1696.7,363.2 1702.3,357.5 1703.9,349.5 1710.4,342.2 1712.8,336.6 1713.2,325.3 1718.5,328.1" fill="none" stroke="#fa0509" stroke-width="6.1" stroke-linejoin="round" stroke-linecap="round"/></g>
<rect x="979.5" y="405.6" width="735.5" height="113.5" fill="url(#bc2)"/>
<line x1="972.4" y1="121.9" x2="980.9" y2="121.9" stroke="#5a5a5a" stroke-width="1.5"/>
<line x1="972.4" y1="190.8" x2="980.9" y2="190.8" stroke="#5a5a5a" stroke-width="1.5"/>
<line x1="972.4" y1="259.9" x2="980.9" y2="259.9" stroke="#5a5a5a" stroke-width="1.5"/>
<line x1="972.4" y1="328.9" x2="980.9" y2="328.9" stroke="#5a5a5a" stroke-width="1.5"/>
<line x1="972.4" y1="397.9" x2="980.9" y2="397.9" stroke="#5a5a5a" stroke-width="1.5"/>
<line x1="972.4" y1="567.2" x2="980.9" y2="567.2" stroke="#5a5a5a" stroke-width="1.5"/>
<line x1="972.4" y1="618.3" x2="980.9" y2="618.3" stroke="#5a5a5a" stroke-width="1.5"/>
<line x1="972.4" y1="669.5" x2="980.9" y2="669.5" stroke="#5a5a5a" stroke-width="1.5"/>
<line x1="972.4" y1="720.7" x2="980.9" y2="720.7" stroke="#5a5a5a" stroke-width="1.5"/>
<line x1="972.4" y1="770.7" x2="980.9" y2="770.7" stroke="#5a5a5a" stroke-width="1.5"/>
</g>
<g>
<text transform="translate(451.3 28) scale(1 0.95)" class="h" text-anchor="middle" font-size="27.25">Enrichment plot:KO04141 Protein processing</text>
<text transform="translate(450.8 61) scale(1 0.95)" class="h" text-anchor="middle" font-size="27.4">in endoplasmic reticulum</text>
<text x="798" y="91.6" class="t" text-anchor="end" font-size="20.5">Nominal p<tspan dy="1.4" textLength="11.97" lengthAdjust="spacingAndGlyphs">-</tspan><tspan dy="-1.4">value: 0</tspan></text>
<text x="798" y="116" class="t" text-anchor="end" font-size="20.5">FDR: 0</text>
<text x="798" y="140.4" class="t" text-anchor="end" font-size="20.5">ES: 0.7268</text>
<text x="798" y="164.8" class="t" text-anchor="end" font-size="20.5">Normalized ES: 1.8524</text>
<text x="403.4" y="662.8" class="t" text-anchor="middle" font-size="27.1">Zero cross at 21021</text>
<text x="84.7" y="535.4" class="cp">Positive</text>
<text x="751.8" y="535.2" class="cn">Negative</text>
<text transform="translate(56.3 80) rotate(-90)" class="t" text-anchor="middle" font-size="20">0.8</text>
<text transform="translate(56.3 151.6) rotate(-90)" class="t" text-anchor="middle" font-size="20">0.6</text>
<text transform="translate(56.3 223.4) rotate(-90)" class="t" text-anchor="middle" font-size="20">0.4</text>
<text transform="translate(56.3 295.4) rotate(-90)" class="t" text-anchor="middle" font-size="20">0.2</text>
<text transform="translate(56.3 367.3) rotate(-90)" class="t" text-anchor="middle" font-size="20">0.0</text>
<text transform="translate(25.1 236.3) rotate(-90)" class="t" text-anchor="middle" font-size="27.5">Enrichment score (ES)</text>
<text transform="translate(56.3 567.2) rotate(-90)" class="t" text-anchor="middle" font-size="20">4</text>
<text transform="translate(56.3 618.3) rotate(-90)" class="t" text-anchor="middle" font-size="20">2</text>
<text transform="translate(56.3 669.5) rotate(-90)" class="t" text-anchor="middle" font-size="20">0</text>
<text transform="translate(56.3 720.7) rotate(-90)" class="t" text-anchor="middle" font-size="20"><tspan textLength="11.68" lengthAdjust="spacingAndGlyphs">-</tspan>2</text>
<text transform="translate(56.3 770.7) rotate(-90)" class="t" text-anchor="middle" font-size="20"><tspan textLength="11.68" lengthAdjust="spacingAndGlyphs">-</tspan>4</text>
<text transform="translate(25.1 665) rotate(-90)" class="t" text-anchor="middle" font-size="27.55">Signal2Noise</text>
<text x="217.3" y="813.8" class="t" text-anchor="middle" font-size="20.2">10000</text>
<text x="357.8" y="813.8" class="t" text-anchor="middle" font-size="20.2">20000</text>
<text x="498.2" y="813.8" class="t" text-anchor="middle" font-size="20.2">30000</text>
<text x="638.7" y="813.8" class="t" text-anchor="middle" font-size="20.2">40000</text>
<text x="779.1" y="813.8" class="t" text-anchor="middle" font-size="20.2">50000</text>
<text x="452.3" y="847.2" class="t" text-anchor="middle" font-size="27.45">Rank in ordered gene list</text>
<text transform="translate(1356.4 44.7) scale(1 0.95)" class="h" text-anchor="middle" font-size="27.38">Enrichment plot:KO04612 Antigen processing and presentation</text>
<text x="1702.9" y="91.6" class="t" text-anchor="end" font-size="20.5">Nominal p<tspan dy="1.4" textLength="11.97" lengthAdjust="spacingAndGlyphs">-</tspan><tspan dy="-1.4">value: 0.0271</tspan></text>
<text x="1702.9" y="116" class="t" text-anchor="end" font-size="20.5">FDR: 0.1749</text>
<text x="1702.9" y="140.4" class="t" text-anchor="end" font-size="20.5">ES: 0.6443</text>
<text x="1702.9" y="164.8" class="t" text-anchor="end" font-size="20.5">Normalized ES: 1.3997</text>
<text x="1308.3" y="662.8" class="t" text-anchor="middle" font-size="27.1">Zero cross at 21021</text>
<text x="989.2" y="535.4" class="cp">Positive</text>
<text x="1656.7" y="535.2" class="cn">Negative</text>
<text transform="translate(961.2 121.9) rotate(-90)" class="t" text-anchor="middle" font-size="20">0.6</text>
<text transform="translate(961.2 190.8) rotate(-90)" class="t" text-anchor="middle" font-size="20">0.4</text>
<text transform="translate(961.2 259.9) rotate(-90)" class="t" text-anchor="middle" font-size="20">0.2</text>
<text transform="translate(961.2 328.9) rotate(-90)" class="t" text-anchor="middle" font-size="20">0.0</text>
<text transform="translate(961.2 397.9) rotate(-90)" class="t" text-anchor="middle" font-size="20"><tspan textLength="11.68" lengthAdjust="spacingAndGlyphs">-</tspan>0.2</text>
<text transform="translate(930 236.3) rotate(-90)" class="t" text-anchor="middle" font-size="27.5">Enrichment score (ES)</text>
<text transform="translate(961.2 567.2) rotate(-90)" class="t" text-anchor="middle" font-size="20">4</text>
<text transform="translate(961.2 618.3) rotate(-90)" class="t" text-anchor="middle" font-size="20">2</text>
<text transform="translate(961.2 669.5) rotate(-90)" class="t" text-anchor="middle" font-size="20">0</text>
<text transform="translate(961.2 720.7) rotate(-90)" class="t" text-anchor="middle" font-size="20"><tspan textLength="11.68" lengthAdjust="spacingAndGlyphs">-</tspan>2</text>
<text transform="translate(961.2 770.7) rotate(-90)" class="t" text-anchor="middle" font-size="20"><tspan textLength="11.68" lengthAdjust="spacingAndGlyphs">-</tspan>4</text>
<text transform="translate(930 665) rotate(-90)" class="t" text-anchor="middle" font-size="27.55">Signal2Noise</text>
<text x="1123.2" y="813.8" class="t" text-anchor="middle" font-size="20.2">10000</text>
<text x="1263.6" y="813.8" class="t" text-anchor="middle" font-size="20.2">20000</text>
<text x="1404.1" y="813.8" class="t" text-anchor="middle" font-size="20.2">30000</text>
<text x="1544.5" y="813.8" class="t" text-anchor="middle" font-size="20.2">40000</text>
<text x="1685" y="813.8" class="t" text-anchor="middle" font-size="20.2">50000</text>
<text x="1356" y="847.2" class="t" text-anchor="middle" font-size="27.45">Rank in ordered gene list</text>
</g>
</svg>
</body>
</html>
